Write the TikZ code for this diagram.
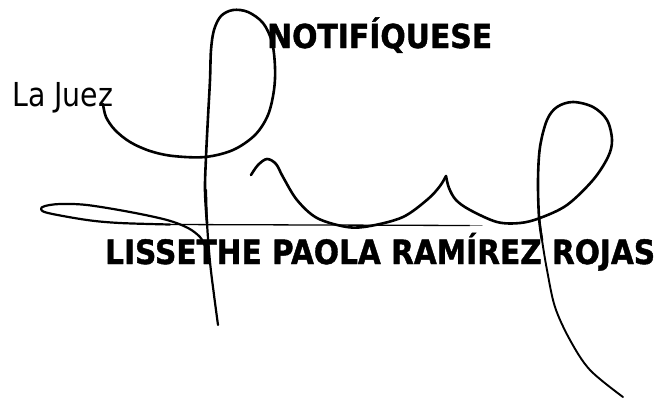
\documentclass[tikz,border=0pt]{standalone}
\usepackage{fontspec}
\usepackage{graphicx}
\setmainfont{DejaVu Sans}
\newfontfamily\heavyfont[FakeBold=1.3]{DejaVu Sans Bold}
\newsavebox\sigtextbox
\newlength\sigtextlen
\newcommand\fittowidth[2]{\sbox\sigtextbox{#2}\setlength\sigtextlen{\wd\sigtextbox}\pgfmathsetmacro\sigratio{#1/\sigtextlen}\scalebox{\sigratio}[1]{\usebox\sigtextbox}}
\tikzset{
  ink/.style={line width=2.6pt, line cap=round, line join=round, black},
  thinink/.style={line width=1.3pt, line cap=round, line join=round, black},
  label/.style={inner sep=0pt, anchor=base west},
}
\begin{document}
\begin{tikzpicture}[x=1pt,y=-1pt]
\useasboundingbox[fill=white] (0,0) rectangle (660,399);
% texts
\node[label] (notif) at (267,48) {\fittowidth{225}{\fontsize{33}{36}\heavyfont NOTIFÍQUESE}};
\node[label] (juez) at (12,106) {\fittowidth{101}{\fontsize{33}{36}\selectfont La Juez}};
\node[label] (name) at (105,264) {\fittowidth{550}{\fontsize{33.5}{36}\heavyfont LISSETHE PAOLA RAMÍREZ ROJAS}};
% main stroke
\draw[ink] plot[smooth, tension=0.55] coordinates {(103,104) (106,117) (115,130) (130,142) (150,151) (173,156) (205,157) (233,150) (255,135) (268,115) (274,90) (275,67) (272,42) (263,23) (248,12) (233,10) (221,16) (214,30) (211,50) (210,80) (208,117) (206,157) (205,190) (207,223)};
\draw[ink, line width=2.2pt] plot[smooth, tension=0.55] coordinates {(206,190) (207,223) (210,262) (214,295) (218,325)};
% hook
\draw[ink] plot[smooth, tension=0.55] coordinates {(251,175) (258,165) (267,159) (276,164) (283,177) (297,200) (317,218) (347,227) (370,226) (403,217) (428,199) (440,186) (446,176)};
% right loop and tail
\draw[ink] plot[smooth, tension=0.55] coordinates {(446,176) (449,188) (456,200) (470,210) (497,222) (520,223) (540,218) (567,205) (593,180) (608,157) (612,140) (607,120) (593,107) (573,102) (557,107) (547,120) (540,147) (538,180) (539,217) (542,240)};
\draw[ink, line width=1.9pt] plot[smooth, tension=0.55] coordinates {(539,217) (542,240) (547,270) (555,307) (570,340) (590,370) (623,397)};
% left loop
\draw[ink, line width=2.2pt] plot[smooth, tension=0.55] coordinates {(205,246) (200,237) (188,228) (167,220) (130,212) (87,205) (60,204) (45,206) (41,209) (48,213) (87,220) (120,223) (170,224.5)};
% horizontal line
\draw[thinink] (170,224.5) -- (470,225.5);
\draw[thinink, black!50, line width=1pt] (470,225.5) -- (482,225.5);
\end{tikzpicture}
\end{document}
